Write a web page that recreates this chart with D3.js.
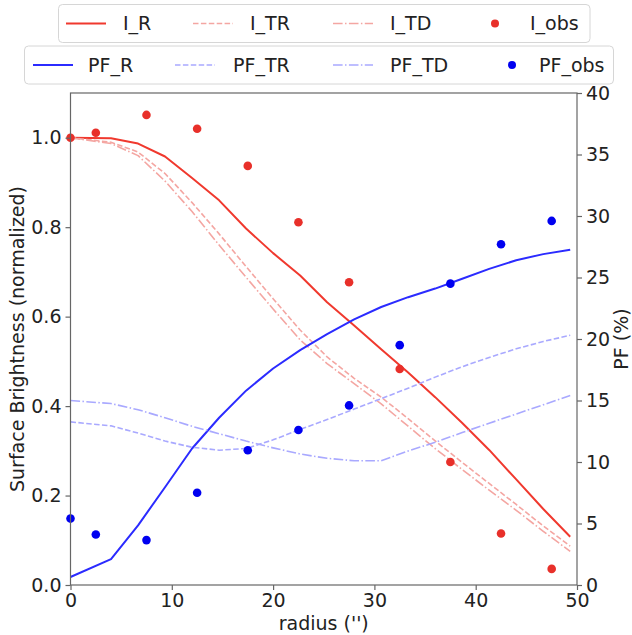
<!DOCTYPE html>
<html><head><meta charset="utf-8">
<script src="https://cdn.jsdelivr.net/npm/d3@7"></script>
<style>body{margin:0;background:#fff}svg{display:block}text{font-family:"DejaVu Sans",sans-serif;fill:#222}</style>
</head><body>
<svg id="c" width="632" height="635"></svg>
<script>
const radius = [0, 4, 6.67, 9.33, 12, 14.67, 17.33, 20, 22.67, 25.33, 28, 30.67, 33.33, 36, 38.67, 41.33, 44, 46.67, 49.33];
const I_R  = [1.0, 0.999, 0.987, 0.958, 0.91, 0.86, 0.797, 0.742, 0.692, 0.632, 0.58, 0.527, 0.475, 0.42, 0.362, 0.302, 0.236, 0.17, 0.108];
const I_TR = [1.0, 0.99, 0.968, 0.92, 0.855, 0.785, 0.712, 0.64, 0.57, 0.51, 0.462, 0.42, 0.372, 0.322, 0.274, 0.227, 0.18, 0.132, 0.087];
const I_TD = [1.0, 0.987, 0.96, 0.903, 0.835, 0.76, 0.688, 0.617, 0.548, 0.495, 0.45, 0.405, 0.355, 0.305, 0.258, 0.212, 0.167, 0.12, 0.075];
const PF_R  = [0.65, 2.1, 4.85, 7.95, 11.1, 13.6, 15.8, 17.6, 19.1, 20.4, 21.6, 22.6, 23.4, 24.1, 24.9, 25.7, 26.4, 26.9, 27.25];
const PF_TR = [13.26, 12.94, 12.35, 11.7, 11.2, 10.96, 11.1, 11.8, 12.65, 13.45, 14.3, 15.15, 16.0, 16.9, 17.75, 18.5, 19.2, 19.8, 20.3];
const PF_TD = [15.0, 14.75, 14.25, 13.6, 12.9, 12.3, 11.7, 11.15, 10.65, 10.3, 10.1, 10.1, 10.9, 11.6, 12.4, 13.15, 13.9, 14.65, 15.4];
const obsRadius = [0, 2.5, 7.5, 12.5, 17.5, 22.5, 27.5, 32.5, 37.5, 42.5, 47.5];
const I_obs  = [1.0, 1.011, 1.051, 1.02, 0.937, 0.811, 0.677, 0.483, 0.275, 0.115, 0.036];
const PF_obs = [5.4, 4.1, 3.65, 7.5, 10.95, 12.6, 14.6, 19.5, 24.5, 27.7, 29.6];
const xTicks = [0, 10, 20, 30, 40, 50];
const yLTicks = [0, 0.2, 0.4, 0.6, 0.8, 1.0];
const yRTicks = [0, 5, 10, 15, 20, 25, 30, 35, 40];

const L = 70.5, R = 577, T = 93, B = 585;
const svg = d3.select("#c");
const x = d3.scaleLinear([0, 50], [L, R]);
const yL = d3.scaleLinear([0, 1.1], [B, T]);
const yR = d3.scaleLinear([0, 40], [B, T]);
const FS = 19;

const red = "#f0392e", redPt = "#e8302a", pink = "#f4a6a2";
const blue = "#2b2bff", bluePt = "#0000f0", lblue = "#a9a9ff";
const dashS = "5.5,2.4", dashDotS = "9.6,2.4,1.5,2.4";

svg.append("defs").append("clipPath").attr("id","clip")
  .append("rect").attr("x",L).attr("y",T).attr("width",R-L).attr("height",B-T);
const g = svg.append("g").attr("clip-path","url(#clip)");

function drawLine(vals, yS, color, w, dash){
  const line = d3.line().x((d,i)=>x(radius[i])).y(d=>yS(d));
  g.append("path").datum(vals).attr("d", line).attr("fill","none")
    .attr("stroke", color).attr("stroke-width", w)
    .attr("stroke-dasharray", dash || null).attr("stroke-linejoin","round");
}
drawLine(I_R, yL, red, 2);
drawLine(I_TR, yL, pink, 1.6, dashS);
drawLine(I_TD, yL, pink, 1.6, dashDotS);
svg.append("g").selectAll("circle").data(I_obs).join("circle")
  .attr("cx",(d,i)=>x(obsRadius[i])).attr("cy",d=>yL(d)).attr("r",4.3).attr("fill",redPt);
drawLine(PF_R, yR, blue, 2);
drawLine(PF_TR, yR, lblue, 1.6, dashS);
drawLine(PF_TD, yR, lblue, 1.6, dashDotS);
svg.append("g").selectAll("circle").data(PF_obs).join("circle")
  .attr("cx",(d,i)=>x(obsRadius[i])).attr("cy",d=>yR(d)).attr("r",4.3).attr("fill",bluePt);

// frame
svg.append("rect").attr("x",L).attr("y",T).attr("width",R-L).attr("height",B-T)
  .attr("fill","none").attr("stroke","#666").attr("stroke-width",1.2);

function styleAxis(sel){
  sel.select(".domain").remove();
  sel.selectAll(".tick line").attr("stroke","#666").attr("stroke-width",1.2);
  sel.selectAll(".tick text").attr("font-size",FS).attr("fill","#222").style("font-family","DejaVu Sans");
}
svg.append("g").attr("transform",`translate(0,${B})`)
  .call(d3.axisBottom(x).tickValues(xTicks).tickSize(5).tickPadding(4).tickFormat(d3.format("d")))
  .call(styleAxis);
svg.append("g").attr("transform",`translate(${L},0)`)
  .call(d3.axisLeft(yL).tickValues(yLTicks).tickSize(5).tickPadding(4).tickFormat(d3.format(".1f")))
  .call(styleAxis);
svg.append("g").attr("transform",`translate(${R},0)`)
  .call(d3.axisRight(yR).tickValues(yRTicks).tickSize(5).tickPadding(4).tickFormat(d3.format("d")))
  .call(styleAxis);

svg.append("text").attr("x",(L+R)/2).attr("y",630).attr("text-anchor","middle").attr("font-size",FS).text("radius ('')");
svg.append("text").attr("transform",`translate(24,${(T+B)/2}) rotate(-90)`).attr("text-anchor","middle").attr("font-size",FS).text("Surface Brightness (normalized)");
svg.append("text").attr("transform",`translate(628,${(T+B)/2}) rotate(-90)`).attr("text-anchor","middle").attr("font-size",FS).text("PF (%)");

// legends
const legendI = [
  {label:"I_R", type:"line", color:red, w:2, dash:null, hx:66, tx:123},
  {label:"I_TR", type:"line", color:pink, w:1.6, dash:dashS, hx:193, tx:250},
  {label:"I_TD", type:"line", color:pink, w:1.6, dash:dashDotS, hx:333, tx:390},
  {label:"I_obs", type:"dot", color:redPt, hx:495, tx:530}
];
const legendPF = [
  {label:"PF_R", type:"line", color:blue, w:2, dash:null, hx:33, tx:88},
  {label:"PF_TR", type:"line", color:lblue, w:1.6, dash:dashS, hx:175, tx:233},
  {label:"PF_TD", type:"line", color:lblue, w:1.6, dash:dashDotS, hx:333, tx:390},
  {label:"PF_obs", type:"dot", color:bluePt, hx:512, tx:539}
];
function drawLegend(items, bx, by, bw, bh){
  const lg = svg.append("g");
  lg.append("rect").attr("x",bx).attr("y",by).attr("width",bw).attr("height",bh)
    .attr("rx",4).attr("fill","white").attr("fill-opacity",0.85).attr("stroke","#d6d6d6").attr("stroke-width",1);
  const cy = by + bh/2;
  items.forEach(it=>{
    if(it.type==="line"){
      lg.append("line").attr("x1",it.hx).attr("x2",it.hx+40).attr("y1",cy).attr("y2",cy)
        .attr("stroke",it.color).attr("stroke-width",it.w).attr("stroke-dasharray",it.dash);
    } else {
      lg.append("circle").attr("cx",it.hx).attr("cy",cy).attr("r",4).attr("fill",it.color);
    }
    lg.append("text").attr("x",it.tx).attr("y",cy).attr("dy","0.35em").attr("font-size",FS).text(it.label);
  });
}
drawLegend(legendI, 58.5, 4.5, 531.5, 38);
drawLegend(legendPF, 24.5, 46, 589, 38);
</script>
</body></html>
